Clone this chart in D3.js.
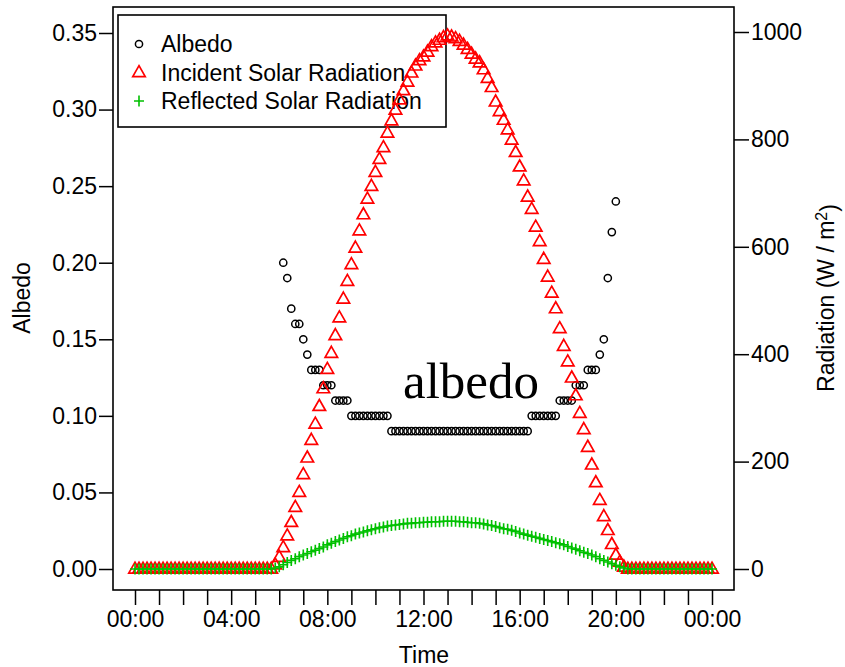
<!DOCTYPE html>
<html>
<head>
<meta charset="utf-8">
<script src="https://cdn.jsdelivr.net/npm/d3@7"></script>
<style>
  body { margin: 0; background: #fff; }
  svg text { font-family: "Liberation Sans", Arial, sans-serif; }
</style>
</head>
<body>
<svg id="chart" width="845" height="667"></svg>
<script>
// readings every 10 minutes, 00:00 to 24:00 (145 points)
const stepMinutes = 10

const incident = [
  0, 0, 0, 0, 0, 0, 0, 0, 0, 0, 0, 0, 0, 0, 0, 0, 0, 0, 0, 0,
  0, 0, 0, 0, 0, 0, 0, 0, 0, 0, 0, 0, 0, 0, 0, 8, 22, 40, 62, 87,
  115, 143, 176, 207, 240, 270, 303, 336, 372, 402, 435, 468, 503, 536, 567, 598, 630, 660, 689, 713,
  739, 763, 785, 812, 835, 855, 874, 891, 907, 924, 937, 947, 954, 963, 973, 980, 985, 990, 993, 991,
  988, 983, 976, 968, 959, 950, 943, 930, 914, 897, 870, 852, 836, 818, 799, 776, 749, 723, 693, 670,
  637, 610, 577, 544, 514, 485, 448, 415, 386, 356, 323, 290, 260, 227, 194, 161, 128, 98, 72, 46,
  26, 13, 4, 0, 0, 0, 0, 0, 0, 0, 0, 0, 0, 0, 0, 0, 0, 0, 0, 0,
  0, 0, 0, 0, 0
]

const reflected = [
  0, 0, 0, 0, 0, 0, 0, 0, 0, 0, 0, 0, 0, 0, 0, 0, 0, 0, 0, 0,
  0, 0, 0, 0, 0, 0, 0, 0, 0, 0, 0, 0, 0, 0, 0, 2, 4, 8, 12, 16,
  19, 23, 26, 29, 32, 35, 38, 41, 45, 48, 51, 54, 57, 60, 62, 65, 67, 69, 71, 73,
  75, 77, 78, 80, 81, 82, 83, 84, 85, 85, 86, 86, 87, 87, 88, 88, 88, 89, 89, 89,
  89, 88, 88, 87, 86, 86, 85, 84, 82, 81, 79, 77, 75, 74, 72, 70, 67, 65, 63, 61,
  59, 57, 55, 53, 51, 49, 47, 45, 42, 39, 37, 34, 31, 29, 26, 23, 19, 16, 13, 10,
  7, 4, 2, 0, 0, 0, 0, 0, 0, 0, 0, 0, 0, 0, 0, 0, 0, 0, 0, 0,
  0, 0, 0, 0, 0
]

// albedo only where it was computed (null = not plotted)
const albedo = [
  null, null, null, null, null, null, null, null, null, null, null, null, null, null, null, null, null, null, null, null,
  null, null, null, null, null, null, null, null, null, null, null, null, null, null, null, null, null, 0.20, 0.19, 0.17,
  0.16, 0.16, 0.15, 0.14, 0.13, 0.13, 0.13, 0.12, 0.12, 0.12, 0.11, 0.11, 0.11, 0.11, 0.10, 0.10, 0.10, 0.10, 0.10, 0.10,
  0.10, 0.10, 0.10, 0.10, 0.09, 0.09, 0.09, 0.09, 0.09, 0.09, 0.09, 0.09, 0.09, 0.09, 0.09, 0.09, 0.09, 0.09, 0.09, 0.09,
  0.09, 0.09, 0.09, 0.09, 0.09, 0.09, 0.09, 0.09, 0.09, 0.09, 0.09, 0.09, 0.09, 0.09, 0.09, 0.09, 0.09, 0.09, 0.09, 0.10,
  0.10, 0.10, 0.10, 0.10, 0.10, 0.10, 0.11, 0.11, 0.11, 0.11, 0.12, 0.12, 0.12, 0.13, 0.13, 0.13, 0.14, 0.15, 0.19, 0.22,
  0.24, null, null, null, null, null, null, null, null, null, null, null, null, null, null, null, null, null, null, null,
  null, null, null, null, null
]

const albedoTicks = [0, 0.05, 0.10, 0.15, 0.20, 0.25, 0.30, 0.35]
const radiationTicks = [0, 200, 400, 600, 800, 1000]
const hourTicks = d3.range(0, 25)
const labelHours = [0, 4, 8, 12, 16, 20, 24]

const legendItems = [
  { label: 'Albedo', shape: 'circle' },
  { label: 'Incident Solar Radiation', shape: 'triangle' },
  { label: 'Reflected Solar Radiation', shape: 'plus' }
]

const box = { left: 113, right: 734, top: 7, bottom: 590 }
const red = '#ff0000'
const green = '#00c000'
const fontSize = 23

const svg = d3.select('#chart')

const x = d3.scaleLinear().domain([0, 24]).range([135, 712])
const yAlbedo = d3.scaleLinear().domain([0, 0.35]).range([569, 33])
const yRad = d3.scaleLinear().domain([0, 1000]).range([569, 32])

const hourOf = i => i * stepMinutes / 60

// markers
const trianglePath = (w, h) => `M0,${-h * 0.62}L${w / 2},${h * 0.38}L${-w / 2},${h * 0.38}Z`

function drawCircle (g, cx, cy) {
  g.append('circle').attr('cx', cx).attr('cy', cy).attr('r', 3.6)
    .attr('fill', 'none').attr('stroke', '#000').attr('stroke-width', 1.5)
}
function drawTriangle (g, cx, cy) {
  g.append('path').attr('d', trianglePath(12.5, 11)).attr('transform', `translate(${cx},${cy})`)
    .attr('fill', 'none').attr('stroke', red).attr('stroke-width', 1.7)
}
function drawPlus (g, cx, cy) {
  g.append('path').attr('d', 'M-5,0H5M0,-5.5V5.5').attr('transform', `translate(${cx},${cy})`)
    .attr('fill', 'none').attr('stroke', green).attr('stroke-width', 1.6)
}

// legend (drawn first, the points go over it)
const legend = svg.append('g')
legend.append('rect')
  .attr('x', 118).attr('y', 15).attr('width', 328).attr('height', 112)
  .attr('fill', 'none').attr('stroke', '#000').attr('stroke-width', 1.6)

const drawers = { circle: drawCircle, triangle: drawTriangle, plus: drawPlus }
legendItems.forEach((item, i) => {
  const cy = 44 + i * 28.5
  drawers[item.shape](legend, 139, cy)
  legend.append('text')
    .attr('x', 161).attr('y', cy)
    .attr('dy', '0.36em')
    .style('font-size', fontSize + 'px')
    .text(item.label)
})

const marks = svg.append('g')

albedo.forEach((v, i) => {
  if (v != null) drawCircle(marks, x(hourOf(i)), yAlbedo(v))
})
incident.forEach((v, i) => drawTriangle(marks, x(hourOf(i)), yRad(v)))
reflected.forEach((v, i) => drawPlus(marks, x(hourOf(i)), yRad(v)))

// annotation
svg.append('text')
  .attr('x', 403).attr('y', 398)
  .style('font-family', '"Liberation Serif", "Times New Roman", serif')
  .style('font-size', '51px')
  .attr('fill', '#000')
  .text('albedo')

// plot box
svg.append('rect')
  .attr('x', box.left).attr('y', box.top)
  .attr('width', box.right - box.left).attr('height', box.bottom - box.top)
  .attr('fill', 'none').attr('stroke', '#000').attr('stroke-width', 1.6)

function styleAxis (g) {
  g.select('.domain').remove()
  g.selectAll('.tick line').attr('stroke', '#000').attr('stroke-width', 1.5)
  g.selectAll('.tick text').style('font-size', fontSize + 'px').attr('fill', '#000')
}

svg.append('g')
  .attr('transform', `translate(${box.left},0)`)
  .call(d3.axisLeft(yAlbedo).tickValues(albedoTicks).tickSize(14).tickPadding(2).tickFormat(d3.format('.2f')))
  .call(styleAxis)

svg.append('g')
  .attr('transform', `translate(${box.right},0)`)
  .call(d3.axisRight(yRad).tickValues(radiationTicks).tickSize(15).tickPadding(2).tickFormat(d3.format('d')))
  .call(styleAxis)

const hourLabel = h => labelHours.includes(h) ? String(h % 24).padStart(2, '0') + ':00' : ''

svg.append('g')
  .attr('transform', `translate(0,${box.bottom})`)
  .call(d3.axisBottom(x).tickValues(hourTicks).tickSize(15).tickPadding(6).tickFormat(hourLabel))
  .call(styleAxis)

// axis titles
svg.append('text')
  .attr('x', 424).attr('y', 663)
  .attr('text-anchor', 'middle')
  .style('font-size', fontSize + 'px')
  .text('Time')

svg.append('text')
  .attr('transform', 'translate(30,298) rotate(-90)')
  .attr('text-anchor', 'middle')
  .style('font-size', fontSize + 'px')
  .text('Albedo')

const radTitle = svg.append('text')
  .attr('transform', 'translate(834,298) rotate(-90)')
  .attr('text-anchor', 'middle')
  .style('font-size', fontSize + 'px')
radTitle.append('tspan').text('Radiation (W / m')
radTitle.append('tspan').attr('dy', '-0.45em').style('font-size', '16px').text('2')
radTitle.append('tspan').attr('dy', '0.45em').text(')')
</script>
</body>
</html>
